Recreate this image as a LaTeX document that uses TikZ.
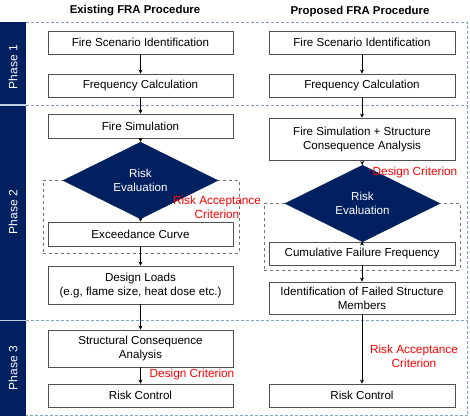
\documentclass[tikz,border=0pt]{standalone}
\usepackage{fontspec}
\setmainfont{Liberation Sans}
\usetikzlibrary{shapes.geometric,arrows.meta}
\definecolor{navy}{RGB}{0,32,96}
\definecolor{phaseline}{RGB}{130,160,200}
\definecolor{boxline}{RGB}{80,80,80}
\definecolor{critred}{RGB}{255,0,0}
\tikzset{
  procbox/.style={draw=boxline, line width=0.9pt, fill=white, rectangle, inner sep=1pt, align=center, font=\fontsize{11.6}{14}\selectfont},
  evaldiamond/.style={diamond, fill=navy, draw=navy, inner sep=0pt, minimum width=155pt, minimum height=48pt, text=white, align=center, font=\fontsize{11.6}{14}\selectfont},
  grpbox/.style={draw=boxline!80, dashed, line width=0.7pt, rectangle, inner sep=0pt},
  crit/.style={text=critred, align=center, font=\fontsize{11.8}{14}\selectfont},
  flow/.style={-{Stealth[length=4pt,width=4pt]}, line width=0.6pt, black},
  phasestrip/.style={fill=navy, draw=none},
  phaselabel/.style={text=white, rotate=90, font=\fontsize{12}{14}\selectfont},
  phasedash/.style={phaseline, dash pattern=on 3pt off 2pt, line width=0.8pt},
  title/.style={font=\bfseries\fontsize{11.4}{13}\selectfont}
}
\begin{document}
\begin{tikzpicture}[x=1pt,y=-1pt]
\useasboundingbox (0,0) rectangle (470,418);
% phase strips
\fill[phaseline!50] (0,22) rectangle (26,415.5);
\node[phasestrip, minimum width=26pt, minimum height=82pt, inner sep=0, anchor=north west] (p1) at (0,22) {};
\node[phasestrip, minimum width=26pt, minimum height=213.5pt, inner sep=0, anchor=north west] (p2) at (0,106) {};
\node[phasestrip, minimum width=26pt, minimum height=94.5pt, inner sep=0, anchor=north west] (p3) at (0,321) {};
\node[phaselabel] (pl1) at (13,67) {Phase 1};
\node[phaselabel] (pl2) at (13,212) {Phase 2};
\node[phaselabel] (pl3) at (13,368) {Phase 3};
% phase dashed frame
\coordinate (f1) at (26,22);
\coordinate (f2) at (467.5,22);
\coordinate (f3) at (467.5,415.5);
\coordinate (f4) at (26,415.5);
\coordinate (g1) at (26,105);
\coordinate (g2) at (467.5,105);
\coordinate (h1) at (26,320);
\coordinate (h2) at (467.5,320);
\draw[phasedash] (f1) -- (f2) -- (f3) -- (f4);
\draw[phasedash] (g1) -- (g2);
\draw[phasedash] (h1) -- (h2);
% titles
\node[title] (t1) at (135,11) {Existing FRA Procedure};
\node[title] (t2) at (360,12) {Proposed FRA Procedure};
% dashed group boxes
\node[grpbox, minimum width=196pt, minimum height=73pt] (gb1) at (141,216.5) {};
\node[grpbox, minimum width=196pt, minimum height=67pt] (gb2) at (362,236.5) {};
% left column
\node[procbox, minimum width=185pt, minimum height=23pt] (fsi1) at (140.5,42.5) {Fire Scenario Identification};
\node[procbox, minimum width=185pt, minimum height=23pt] (fc1) at (140.5,85.5) {Frequency Calculation};
\node[procbox, minimum width=185pt, minimum height=24pt] (fs1) at (140.5,126) {Fire Simulation};
\node[evaldiamond] (re1) at (140.5,180.5) {Risk\\Evaluation};
\node[procbox, minimum width=185pt, minimum height=24pt] (ec1) at (140.5,234) {Exceedance Curve};
\node[procbox, minimum width=185pt, minimum height=38pt] (dl1) at (140.5,285) {Design Loads\\(e.g, flame size, heat dose etc.)};
\node[procbox, minimum width=185pt, minimum height=37pt] (sca1) at (140.5,348.5) {Structural Consequence\\Analysis};
\node[procbox, minimum width=185pt, minimum height=23pt] (rc1) at (140.5,395.5) {Risk Control};
% right column
\node[procbox, minimum width=186pt, minimum height=23pt] (fsi2) at (362,42.5) {Fire Scenario Identification};
\node[procbox, minimum width=186pt, minimum height=23pt] (fc2) at (362,85.5) {Frequency Calculation};
\node[procbox, minimum width=186pt, minimum height=42pt] (fss2) at (362,139) {Fire Simulation + Structure\\Consequence Analysis};
\node[evaldiamond, minimum height=49pt] (re2) at (362.5,203.5) {Risk\\Evaluation};
\node[procbox, minimum width=186pt, minimum height=23pt] (cff2) at (362,253.5) {Cumulative Failure Frequency};
\node[procbox, minimum width=186pt, minimum height=32pt] (ifs2) at (362,298) {Identification of Failed Structure\\Members};
\node[procbox, minimum width=186pt, minimum height=23pt] (rc2) at (362,395.5) {Risk Control};
% criteria labels
\node[crit] (rac1) at (217,207) {Risk Acceptance\\Criterion};
\node[crit] (dc2) at (415,172) {Design Criterion};
\node[crit] (dc1) at (192,374) {Design Criterion};
\node[crit] (rac2) at (414,356) {Risk Acceptance\\Criterion};
% connectors left
\draw[flow] (fsi1) -- (fc1);
\draw[flow] (fc1) -- (fs1);
\draw[flow] (fs1) -- (re1);
\draw[flow] (re1) -- (ec1);
\draw[flow] (ec1) -- (dl1);
\draw[flow] (dl1) -- (sca1);
\draw[flow] (sca1) -- (rc1);
% connectors right
\draw[flow] (fsi2) -- (fc2);
\draw[flow] (fc2) -- (fss2);
\draw[flow] (fss2.south) -- (re2.north);
\draw[flow] (re2) -- (cff2);
\draw[flow] (cff2) -- (ifs2);
\draw[flow] (ifs2) -- (rc2);
\end{tikzpicture}
\end{document}
